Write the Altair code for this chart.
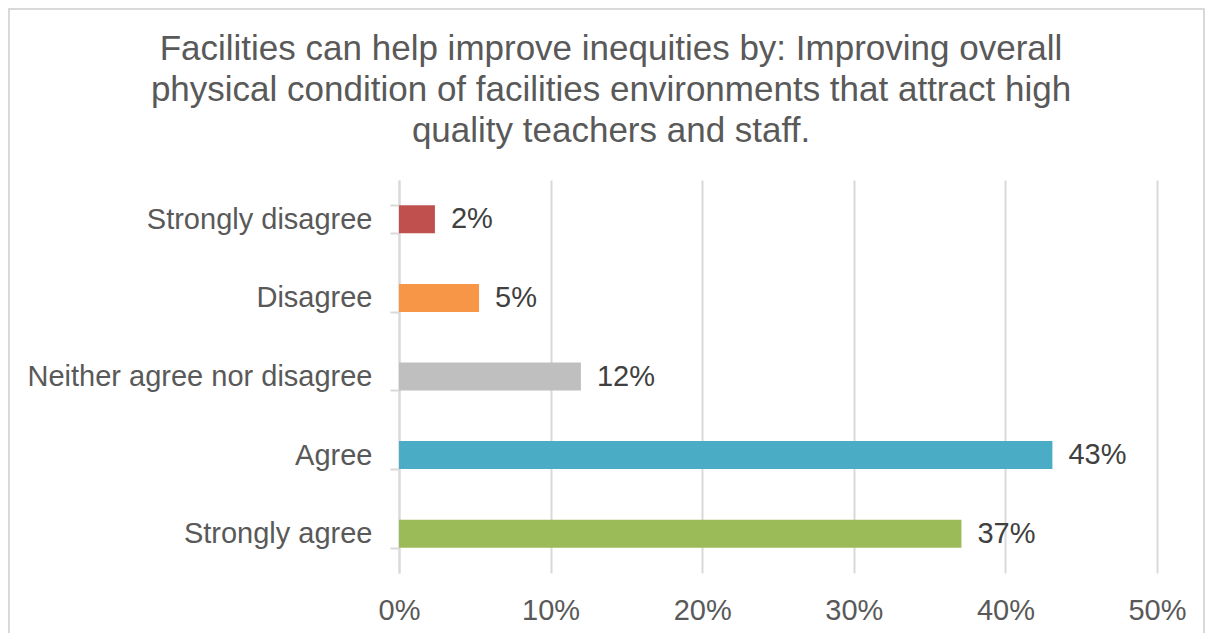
import altair as alt
import pandas as pd

categories = ["Strongly disagree", "Disagree", "Neither agree nor disagree", "Agree", "Strongly agree"]
values = [0.0237, 0.0528, 0.120, 0.431, 0.371]
labels = ["2%", "5%", "12%", "43%", "37%"]
colors = ["#C0504D", "#F79646", "#BFBFBF", "#4BACC6", "#9BBB59"]
title_lines = [
    "Facilities can help improve inequities by: Improving overall",
    "physical condition of facilities environments that attract high",
    "quality teachers and staff.",
]

df = pd.DataFrame({"category": categories, "value": values, "label": labels})

FONT = "Liberation Sans"
W, H = 758, 393

x = alt.X("value:Q",
          scale=alt.Scale(domain=[0, 0.5], nice=False),
          axis=alt.Axis(format=".0%", values=[0, 0.1, 0.2, 0.3, 0.4, 0.5], title=None,
                        domain=False, ticks=False, tickSize=0, labelPadding=23, labelFlush=False,
                        labelFontSize=29, labelColor="#595959", labelFont=FONT,
                        grid=True, gridColor="#D9D9D9", gridWidth=2))
y = alt.Y("category:N", sort=categories,
          scale=alt.Scale(paddingInner=0.644, paddingOuter=0.322),
          axis=alt.Axis(title=None, domain=True, domainColor="#D9D9D9", domainWidth=2,
                        ticks=True, tickBand="extent", tickColor="#D9D9D9", tickWidth=2, tickSize=9,
                        labelPadding=18, labelFontSize=29, labelColor="#595959", labelFont=FONT,
                        labelLimit=400, grid=False))

bars = alt.Chart(df).mark_bar().encode(
    x=x, y=y,
    color=alt.Color("category:N", scale=alt.Scale(domain=categories, range=colors), legend=None),
)
text = alt.Chart(df).mark_text(align="left", baseline="middle", dx=16, fontSize=29,
                               font=FONT, color="#404040").encode(
    x="value:Q", y=alt.Y("category:N", sort=categories), text="label:N")

frame = alt.Chart(alt.Data(values=[{}])).mark_rect(fill=None, stroke="#D9D9D9", strokeWidth=2).encode(
    x=alt.value(-390), x2=alt.value(805), y=alt.value(-171), y2=alt.value(480))

chart = alt.layer(bars, text, frame).properties(
    width=W, height=H,
    background="white",
    autosize=alt.AutoSizeParams(type="none"),
    padding={"left": 391, "top": 172, "right": 49, "bottom": 60},
    title=alt.TitleParams(title_lines, anchor="middle", frame="group", dx=-167, dy=166, offset=25,
                          fontSize=35, font=FONT, color="#595959", fontWeight="normal",
                          lineHeight=41),
).configure_view(stroke=None)

chart.save("out.html", embed_options={"renderer": "svg", "actions": False})
